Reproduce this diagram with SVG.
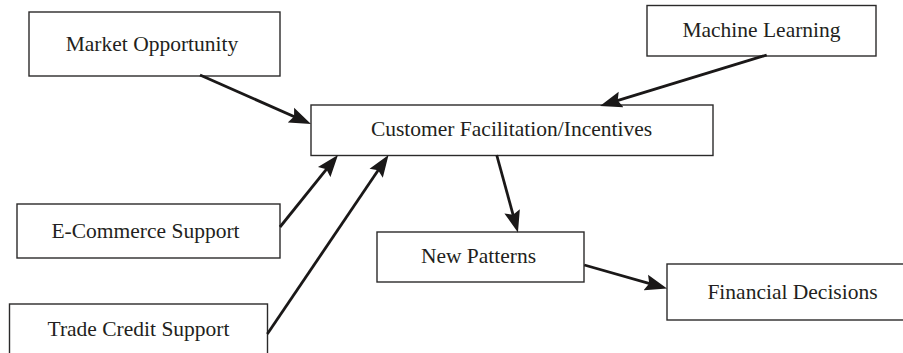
<svg xmlns="http://www.w3.org/2000/svg" width="903" height="353" viewBox="0 0 903 353">
  <style>
    .box { fill: #ffffff; stroke: #2b2a2a; stroke-width: 1.4; }
    .label { font-family: "Liberation Serif", "Times New Roman", serif; font-size: 21.5px; fill: #231f20; text-anchor: middle; }
    .link { stroke: #1a1818; stroke-width: 2.8; fill: none; marker-end: url(#head); }
  </style>
  <defs>
    <marker id="head" markerUnits="userSpaceOnUse" markerWidth="24" markerHeight="18" viewBox="0 0 24 18" refX="15" refY="9" orient="auto">
      <path d="M0,1 L22,9 L0,17 L3.5,9 Z" fill="#1a1818"/>
    </marker>
  </defs>
  <rect width="903" height="353" fill="#ffffff"/>

  <g id="market-opportunity">
    <rect class="box" x="29" y="12" width="251" height="64"/>
    <text class="label" x="152" y="50.5">Market Opportunity</text>
  </g>

  <g id="machine-learning">
    <rect class="box" x="647" y="5.5" width="229" height="50.5"/>
    <text class="label" x="761.5" y="36.5">Machine Learning</text>
  </g>

  <g id="customer-facilitation">
    <rect class="box" x="311" y="105" width="402" height="50.5"/>
    <text class="label" x="511.5" y="135.5">Customer Facilitation/Incentives</text>
  </g>

  <g id="e-commerce-support">
    <rect class="box" x="17" y="204" width="263" height="54"/>
    <text class="label" x="145.5" y="237.5">E-Commerce Support</text>
  </g>

  <g id="new-patterns">
    <rect class="box" x="377" y="232" width="207" height="50"/>
    <text class="label" x="478.5" y="262.5">New Patterns</text>
  </g>

  <g id="financial-decisions">
    <rect class="box" x="667" y="264" width="251" height="56"/>
    <text class="label" x="792.5" y="298.5">Financial Decisions</text>
  </g>

  <g id="trade-credit-support">
    <rect class="box" x="9.5" y="304" width="258" height="60"/>
    <text class="label" x="138.5" y="335.5">Trade Credit Support</text>
  </g>

  <g id="connectors">
    <line class="link" x1="200" y1="75" x2="304.6" y2="121.2"/>
    <line class="link" x1="766.7" y1="55" x2="606.7" y2="103.9"/>
    <line class="link" x1="280" y1="227" x2="333.6" y2="160.4"/>
    <line class="link" x1="267.3" y1="334" x2="384.6" y2="160.8"/>
    <line class="link" x1="496.7" y1="155" x2="516.1" y2="225.8"/>
    <line class="link" x1="584.3" y1="265" x2="660.3" y2="286.6"/>
  </g>
</svg>
